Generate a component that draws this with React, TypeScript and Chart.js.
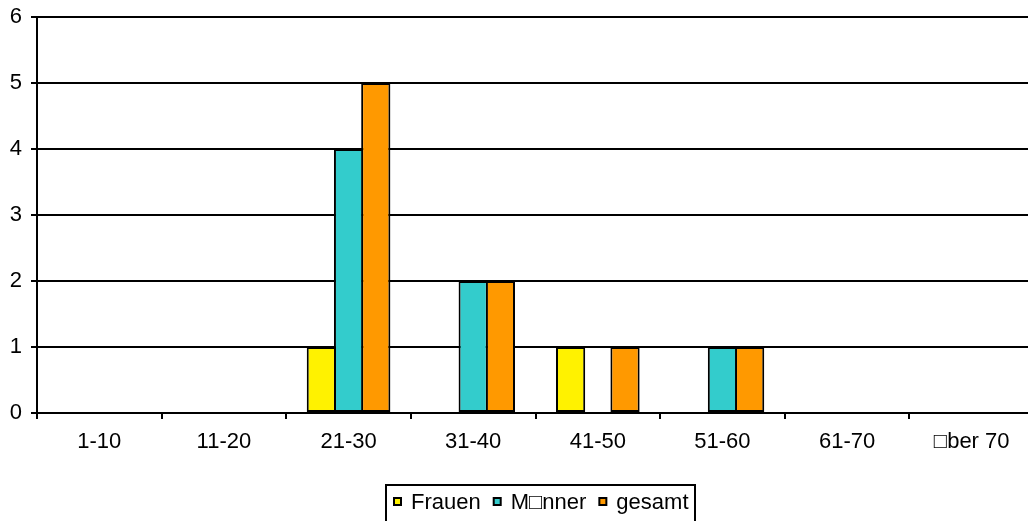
import { useEffect, useRef } from 'react';
import { Chart, registerables } from 'chart.js';

Chart.register(...registerables);

const categories = ['1-10', '11-20', '21-30', '31-40', '41-50', '51-60', '61-70', '\u25A1ber 70'];
const frauen = [0, 0, 1, 0, 1, 0, 0, 0];
const maenner = [0, 0, 4, 2, 0, 1, 0, 0];
const gesamt = [0, 0, 5, 2, 1, 1, 0, 0];
const seriesLabels = ['Frauen', 'M\u25A1nner', 'gesamt'];
const yTicks = [0, 1, 2, 3, 4, 5, 6];

const FONT = "'Liberation Sans', Arial, sans-serif";
const FONT_SIZE = 22;
const COLORS = ['#FFF200', '#33CCCC', '#FF9900'];

const boxLegend = {
  id: 'boxLegend',
  afterDraw(chart: any) {
    const ctx = chart.ctx as CanvasRenderingContext2D;
    const items = chart.data.datasets.map((ds: any) => ({ label: ds.label, color: ds.backgroundColor }));
    ctx.save();
    ctx.font = `${FONT_SIZE}px ${FONT}`;
    const pad = 7, sq = 9, gapText = 9, gapItem = 12;
    const widths = items.map((it: any) => ctx.measureText(it.label).width);
    let total = pad * 2 + gapItem * (items.length - 1);
    items.forEach((_: any, i: number) => { total += sq + gapText + widths[i]; });
    const ca = chart.chartArea;
    const cx = (ca.left + ca.right) / 2 + 5;
    const left = Math.round(cx - total / 2);
    const top = Math.round(ca.bottom + 72);
    ctx.lineWidth = 2;
    ctx.strokeStyle = '#000';
    ctx.strokeRect(left, top, Math.round(total), 80);
    let x = left + pad;
    items.forEach((it: any, i: number) => {
      ctx.fillStyle = '#000';
      ctx.fillRect(x, top + 12, sq, sq);
      ctx.fillStyle = it.color;
      ctx.fillRect(x + 2, top + 14, sq - 4, sq - 4);
      x += sq + gapText;
      ctx.fillStyle = '#000';
      ctx.textBaseline = 'alphabetic';
      ctx.textAlign = 'left';
      ctx.fillText(it.label, x, top + 23.5);
      x += widths[i] + gapItem;
    });
    ctx.restore();
  },
};

export default function App() {
  const ref = useRef<HTMLCanvasElement>(null);
  useEffect(() => {
    Chart.defaults.font.family = FONT;
    Chart.defaults.font.size = FONT_SIZE;
    Chart.defaults.color = '#000';
    const series = [frauen, maenner, gesamt];
    const chart = new Chart(ref.current!, {
      type: 'bar',
      data: {
        labels: categories,
        datasets: series.map((d, i) => ({
          label: seriesLabels[i],
          data: d,
          backgroundColor: COLORS[i],
          borderColor: '#000',
          borderWidth: 2,
          borderSkipped: false,
          categoryPercentage: 0.655,
          barPercentage: 1.074,
        })),
      },
      options: {
        responsive: false,
        animation: false,
        layout: { padding: { top: 17, right: 6, bottom: 67, left: 0 } },
        plugins: { legend: { display: false }, tooltip: { enabled: false } },
        scales: {
          x: {
            offset: true,
            grid: { offset: true, drawOnChartArea: false, drawTicks: true, tickLength: 6, color: '#000', lineWidth: 2 },
            border: { display: true, color: '#000', width: 2 },
            ticks: { padding: 10, maxRotation: 0, autoSkip: false, color: '#000' },
            afterFit: (s: any) => { s.height = 50; s.paddingLeft = 0; s.paddingRight = 0; },
          },
          y: {
            min: 0,
            max: 6,
            afterBuildTicks: (s: any) => { s.ticks = yTicks.map((v) => ({ value: v })); },
            grid: { drawOnChartArea: true, drawTicks: true, tickLength: 6, color: '#000', lineWidth: 2 },
            border: { display: true, color: '#000', width: 2 },
            ticks: { padding: 9, color: '#000' },
            afterFit: (s: any) => { s.width = 37; s.paddingTop = 0; s.paddingBottom = 0; },
          },
        },
      },
      plugins: [boxLegend],
    });
    return () => chart.destroy();
  }, []);
  return (
    <div style={{ position: 'fixed', left: 0, top: 0, width: 1028, height: 521, overflow: 'hidden', background: '#fff' }}>
      <canvas ref={ref} width={1040} height={530} style={{ display: 'block', width: 1040, height: 530 }} />
    </div>
  );
}
